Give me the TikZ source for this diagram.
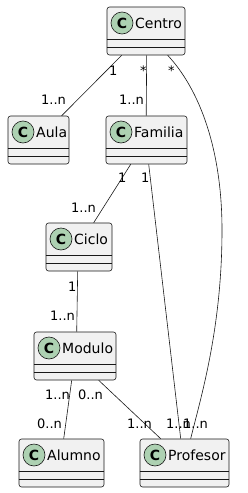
\documentclass[tikz,border=0pt]{standalone}
\usepackage{fontspec}
\setmainfont{DejaVu Sans}
\definecolor{linec}{HTML}{181818}
\definecolor{boxf}{HTML}{F1F1F1}
\definecolor{circf}{HTML}{ADD1B2}
\tikzset{
  clsbox/.style={draw=linec, fill=boxf, rounded corners=2.5pt, line width=0.6pt, inner sep=0pt, minimum height=48pt},
  circ/.style={circle, draw=linec, fill=circf, line width=0.6pt, minimum size=22pt, inner sep=0pt, font=\fontsize{14}{14}\selectfont\bfseries},
  ttl/.style={anchor=base west, inner sep=0pt, font=\fontsize{14}{16}\selectfont},
  lbl/.style={anchor=base west, inner sep=0pt, font=\fontsize{13}{15}\selectfont},
  sep/.style={draw=linec, line width=0.6pt},
  assoc/.style={draw=linec, line width=0.6pt},
}
\newcommand{\umlcls}[5]{%
  \node[clsbox, minimum width=#4pt] (#1) at ({#2+#4/2},{#3+24}) {};
  \node[circ] (#1c) at ({#2+15},{#3+16}) {C};
  \node[ttl] (#1t) at ({#2+28},{#3+21}) {#5};
  \draw[sep] (#1.west |- 0,{#3+32}) -- (#1.east |- 0,{#3+32});
  \draw[sep] (#1.west |- 0,{#3+40}) -- (#1.east |- 0,{#3+40});
}
\begin{document}
\begin{tikzpicture}[x=1pt,y=-1pt]
\useasboundingbox (0,0) rectangle (248,493);
\umlcls{centro}{107}{7}{78}{Centro}
\umlcls{aula}{8}{116}{61}{Aula}
\umlcls{familia}{106}{116}{81}{Familia}
\umlcls{ciclo}{46}{223}{66}{Ciclo}
\umlcls{modulo}{34}{332}{82}{Modulo}
\umlcls{alumno}{19}{439}{85}{Alumno}
\umlcls{profesor}{140}{439}{89}{Profesor}
% connectors
\draw[assoc] ([xshift=15pt]centro.south west) -- ([xshift=54pt]aula.north west);
\draw[assoc] ([xshift=40pt]centro.south west) -- ([xshift=40.5pt]familia.north west);
\coordinate (cmid) at (222,230);
\draw[assoc] ([xshift=61pt]centro.south west) .. controls (200,90) and (222,150) .. (cmid)
  .. controls (222,330) and (200,400) .. ([xshift=51pt]profesor.north west);
\draw[assoc] ([xshift=25pt]familia.south west) -- ([xshift=48pt]ciclo.north west);
\draw[assoc] ([xshift=43pt]familia.south west) -- ([xshift=41pt]profesor.north west);
\draw[assoc] ([xshift=32pt]ciclo.south west) -- ([xshift=43pt]modulo.north west);
\draw[assoc] ([xshift=38pt]modulo.south west) -- ([xshift=45pt]alumno.north west);
\draw[assoc] ([xshift=65pt]modulo.south west) -- ([xshift=21pt]profesor.north west);
% labels
\node[lbl] (l1) at (109,75.5) {1};
\node[lbl] (l2) at (41,104.5) {1..n};
\node[lbl] (l3) at (140,75.5) {*};
\node[lbl] (l4) at (119,104.5) {1..n};
\node[lbl] (l5) at (168,75.5) {*};
\node[lbl] (l6) at (118,182.5) {1};
\node[lbl] (l7) at (141,182.5) {1};
\node[lbl] (l8) at (71,212.5) {1..n};
\node[lbl] (l9) at (68,291.5) {1};
\node[lbl] (l10) at (50,320.5) {1..n};
\node[lbl] (l11) at (45,399.5) {1..n};
\node[lbl] (l12) at (78,399.5) {0..n};
\node[lbl] (l13) at (37,428.5) {0..n};
\node[lbl] (l14) at (127,428.5) {1..n};
\node[lbl] (l15) at (166,428.5) {1..n};
\node[lbl] (l16) at (183,428.5) {1..n};
\end{tikzpicture}
\end{document}
